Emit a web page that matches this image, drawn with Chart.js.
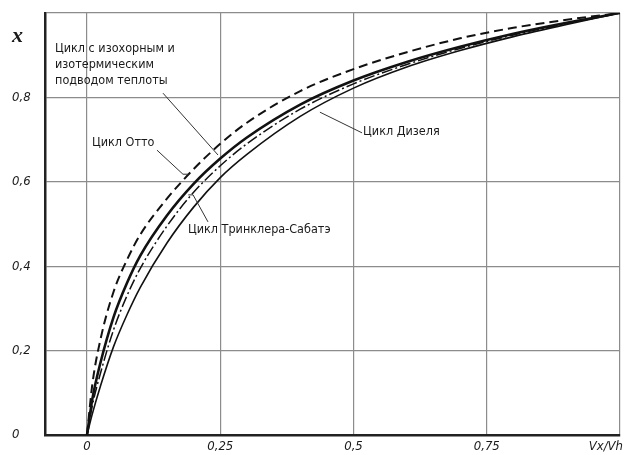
<!DOCTYPE html>
<html><head><meta charset="utf-8">
<script src="https://cdn.jsdelivr.net/npm/chart.js@4"></script>
<style>html,body{margin:0;padding:0;background:#fff}#wrap{width:625px;height:455px}</style>
</head><body><div id="wrap"><canvas id="c" width="625" height="455"></canvas></div>
<script>
// ---- data ----
const vRatio   = [0, 0.01, 0.025, 0.05, 0.075, 0.1, 0.15, 0.2, 0.25, 0.3, 0.4, 0.5, 0.6, 0.7, 0.8, 0.9, 1.0];
const otto     = [0, 0.12, 0.225, 0.34, 0.415, 0.475, 0.56, 0.63, 0.69, 0.74, 0.815, 0.867, 0.907, 0.94, 0.965, 0.984, 1.0];
const isoCycle = [0, 0.085, 0.17, 0.28, 0.36, 0.425, 0.52, 0.595, 0.655, 0.705, 0.783, 0.84, 0.884, 0.92, 0.951, 0.977, 1.0];
const trinkler = [0, 0.07, 0.145, 0.25, 0.33, 0.395, 0.495, 0.575, 0.638, 0.69, 0.772, 0.832, 0.878, 0.916, 0.948, 0.975, 1.0];
const diesel   = [0, 0.05, 0.115, 0.21, 0.285, 0.35, 0.455, 0.54, 0.61, 0.665, 0.755, 0.822, 0.872, 0.911, 0.944, 0.973, 1.0];
const xTicks = [0, 0.25, 0.5, 0.75, 1];
const xTickLabels = ['0', '0,25', '0,5', '0,75', 'Vx/Vh'];
const yTicks = [0, 0.2, 0.4, 0.6, 0.8, 1];
const yTickLabels = ['0', '0,2', '0,4', '0,6', '0,8', ''];
const yAxisTitle = 'x';
const labelIso = ['Цикл с изохорным и', 'изотермическим', 'подводом теплоты'];
const labelOtto = 'Цикл Отто';
const labelTrinkler = 'Цикл Тринклера-Сабатэ';
const labelDiesel = 'Цикл Дизеля';

// ---- layout of annotations (data coordinates) ----
const notes = [
  {lines: labelIso, x: -0.060, y: 0.915, step: 0.038, lead: [[0.1426, 0.810], [0.2458, 0.6635]]},
  {lines: [labelOtto], x: 0.0094, y: 0.692, lead: [[0.1313, 0.675], [0.180, 0.618], [0.190, 0.618]]},
  {lines: [labelTrinkler], x: 0.1895, y: 0.486, lead: [[0.190, 0.569], [0.199, 0.569], [0.227, 0.505]]},
  {lines: [labelDiesel], x: 0.518, y: 0.718, lead: [[0.437, 0.765], [0.516, 0.716]]}
];

const pts = arr => vRatio.map((v, i) => ({x: v, y: arr[i]}));
const tickFont = 'italic 13px "DejaVu Sans Condensed"';
const noteFont = '12.5px "DejaVu Sans Condensed"';

const overlay = {
  id: 'overlay',
  afterDraw(chart) {
    const ctx = chart.ctx, xs = chart.scales.x, ys = chart.scales.y;
    ctx.save();
    ctx.fillStyle = '#1a1a1a';
    ctx.font = tickFont;
    ctx.textBaseline = 'middle';
    ctx.textAlign = 'left';
    yTicks.forEach((v, i) => { if (yTickLabels[i]) ctx.fillText(yTickLabels[i], 12, ys.getPixelForValue(v)); });
    ctx.textAlign = 'center';
    xTicks.forEach((v, i) => {
      let px = xs.getPixelForValue(v);
      if (i === xTicks.length - 1) { ctx.textAlign = 'right'; px += 3; }
      ctx.fillText(xTickLabels[i], px, 447);
    });
    ctx.font = 'bold italic 22px "Liberation Serif"';
    ctx.textAlign = 'left';
    ctx.fillText(yAxisTitle, 12, 36);
    ctx.font = noteFont;
    ctx.strokeStyle = '#333';
    ctx.lineWidth = 1;
    notes.forEach(n => {
      n.lines.forEach((t, k) => ctx.fillText(t, xs.getPixelForValue(n.x), ys.getPixelForValue(n.y - k * (n.step || 0))));
      ctx.beginPath();
      n.lead.forEach((p, k) => {
        const px = xs.getPixelForValue(p[0]), py = ys.getPixelForValue(p[1]);
        k ? ctx.lineTo(px, py) : ctx.moveTo(px, py);
      });
      ctx.stroke();
    });
    ctx.restore();
  }
};

new Chart(document.getElementById('c'), {
  type: 'line',
  data: {
    datasets: [
      {label: labelOtto, data: pts(otto), borderColor: '#111', borderWidth: 2, borderDash: [9, 5]},
      {label: labelIso.join(' '), data: pts(isoCycle), borderColor: '#111', borderWidth: 2.6},
      {label: labelTrinkler, data: pts(trinkler), borderColor: '#111', borderWidth: 1.5, borderDash: [11, 3, 2, 3]},
      {label: labelDiesel, data: pts(diesel), borderColor: '#111', borderWidth: 1.6}
    ].map(d => Object.assign(d, {pointRadius: 0, fill: false, cubicInterpolationMode: 'monotone'}))
  },
  options: {
    responsive: false,
    animation: false,
    devicePixelRatio: 1,
    layout: {padding: {left: 45, top: 13, right: 5, bottom: 20}},
    plugins: {legend: {display: false}, tooltip: {enabled: false}},
    scales: {
      x: {
        type: 'linear', min: -0.0788, max: 1,
        afterBuildTicks: s => { s.ticks = xTicks.map(v => ({value: v})); },
        ticks: {display: false},
        grid: {color: '#8c8c8c', lineWidth: 1.2, drawTicks: false},
        border: {display: true, color: '#222', width: 2.5}
      },
      y: {
        type: 'linear', min: 0, max: 1,
        afterBuildTicks: s => { s.ticks = yTicks.map(v => ({value: v})); },
        ticks: {display: false},
        grid: {color: '#8c8c8c', lineWidth: 1.2, drawTicks: false},
        border: {display: true, color: '#222', width: 2.5}
      }
    }
  },
  plugins: [overlay]
});
</script>
</body></html>
